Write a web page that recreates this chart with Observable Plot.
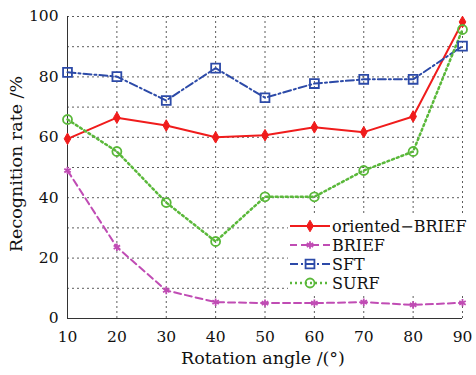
<!DOCTYPE html>
<html>
<head>
<meta charset="utf-8">
<script src="https://cdn.jsdelivr.net/npm/d3@7"></script>
<script src="https://cdn.jsdelivr.net/npm/@observablehq/plot@0.6"></script>
<style>
  html, body { margin: 0; padding: 0; background: #fff; }
  #chart { width: 476px; height: 375px; }
</style>
</head>
<body>
<div id="chart"></div>
<script>
const angles = [10, 20, 30, 40, 50, 60, 70, 80, 90];
const orientedBRIEF = [59.5, 66.5, 63.9, 60.0, 60.7, 63.3, 61.7, 66.9, 98.2];
const brief = [49.0, 23.6, 9.3, 5.4, 5.1, 5.1, 5.4, 4.5, 5.2];
const sft = [81.5, 80.1, 72.2, 82.9, 73.1, 77.8, 79.2, 79.2, 90.2];
const surf = [65.9, 55.3, 38.4, 25.5, 40.3, 40.3, 49.0, 55.3, 95.7];
const seriesNames = ["oriented\u2212BRIEF", "BRIEF", "SFT", "SURF"];
const xTicks = [10, 20, 30, 40, 50, 60, 70, 80, 90];
const yTicks = [0, 20, 40, 60, 80, 100];
const yGrid = [10, 20, 30, 40, 50, 60, 70, 80, 90, 100];

const styles = [
  {color: "#f01c1c", dash: null, width: 2, symbol: "diamond", fill: "#f01c1c", r: 3.5},
  {color: "#c04cb4", dash: "7,4", width: 2, symbol: "asterisk", fill: "none", r: 3.5},
  {color: "#2c4aa8", dash: "8,3,2,3", width: 2, symbol: "square", fill: "none", r: 5},
  {color: "#5ab83a", dash: "2,3", width: 2.5, symbol: "circle", fill: "none", r: 4.5}
];
const values = [orientedBRIEF, brief, sft, surf];
const data = [];
seriesNames.forEach((name, i) => {
  angles.forEach((a, j) => data.push({series: name, angle: a, value: values[i][j], k: i}));
});

const FONT = "DejaVu Serif";
const TICK_FS = 15.5;
const TITLE_FS = 17.5;
const marks = [
  Plot.ruleY(yGrid, {stroke: "#333", strokeWidth: 0.8, strokeDasharray: "2,3"}),
  Plot.ruleX(xTicks.slice(1), {stroke: "#333", strokeWidth: 0.8, strokeDasharray: "2,3"}),
  Plot.ruleX([10], {stroke: "#333", strokeWidth: 1}),
  Plot.ruleY([0], {stroke: "#333", strokeWidth: 1}),
  Plot.axisX({ticks: xTicks, tickSize: 0, tickPadding: 12, tickFormat: d => d, label: null, fontSize: TICK_FS, fontFamily: FONT, fill: "#111"}),
  Plot.axisY({ticks: yTicks, tickSize: 0, tickPadding: 9, tickFormat: d => d, label: null, fontSize: TICK_FS, fontFamily: FONT, fill: "#111"})
];
seriesNames.forEach((name, i) => {
  const s = styles[i];
  const d = data.filter(r => r.k === i);
  marks.push(Plot.line(d, {x: "angle", y: "value", stroke: s.color, strokeWidth: s.width, strokeDasharray: s.dash}));
});
seriesNames.forEach((name, i) => {
  const s = styles[i];
  const d = data.filter(r => r.k === i);
  marks.push(Plot.dot(d, {x: "angle", y: "value", symbol: () => s.symbol, stroke: s.color, fill: s.fill, r: s.r, strokeWidth: s.symbol === "diamond" ? 1 : 1.8}));
});

const plot = Plot.plot({
  width: 476,
  height: 375,
  marginLeft: 67,
  marginRight: 14,
  marginTop: 16,
  marginBottom: 57,
  style: {fontFamily: FONT, fontSize: "15px", color: "#111", background: "#fff"},
  x: {domain: [10, 90]},
  y: {domain: [0, 100]},
  symbol: {type: "identity"},
  marks
});

const svg = d3.select(plot);
// Axis titles
svg.append("text")
  .attr("x", 263).attr("y", 364)
  .attr("text-anchor", "middle")
  .attr("font-family", FONT).attr("font-size", TITLE_FS).attr("fill", "#111")
  .text("Rotation angle /(\u00b0)");
svg.append("text")
  .attr("transform", "translate(22,164) rotate(-90)")
  .attr("text-anchor", "middle")
  .attr("font-family", FONT).attr("font-size", TITLE_FS).attr("fill", "#111")
  .text("Recognition rate /%");

// Legend
const lg = svg.append("g");
lg.append("rect").attr("x", 288).attr("y", 213).attr("width", 180).attr("height", 80).attr("fill", "#fff");
const rowsY = [226, 245, 264, 283];
seriesNames.forEach((name, i) => {
  const s = styles[i];
  const y = rowsY[i];
  lg.append("line").attr("x1", 290).attr("x2", 330).attr("y1", y).attr("y2", y)
    .attr("stroke", s.color).attr("stroke-width", s.width)
    .attr("stroke-dasharray", s.dash);
  const sym = {diamond: d3.symbolDiamond, asterisk: d3.symbolAsterisk, square: d3.symbolSquare, circle: d3.symbolCircle}[s.symbol];
  lg.append("path").attr("transform", `translate(310,${y})`)
    .attr("d", d3.symbol(sym, Math.PI * s.r * s.r)())
    .attr("stroke", s.color).attr("fill", s.fill).attr("stroke-width", s.symbol === "diamond" ? 1 : 1.8);
  lg.append("text").attr("x", 332).attr("y", y).attr("dy", "0.35em")
    .attr("text-anchor", "start")
    .attr("font-family", FONT).attr("font-size", 16).attr("fill", "#111")
    .text(name);
});

document.getElementById("chart").appendChild(plot);
</script>
</body>
</html>
